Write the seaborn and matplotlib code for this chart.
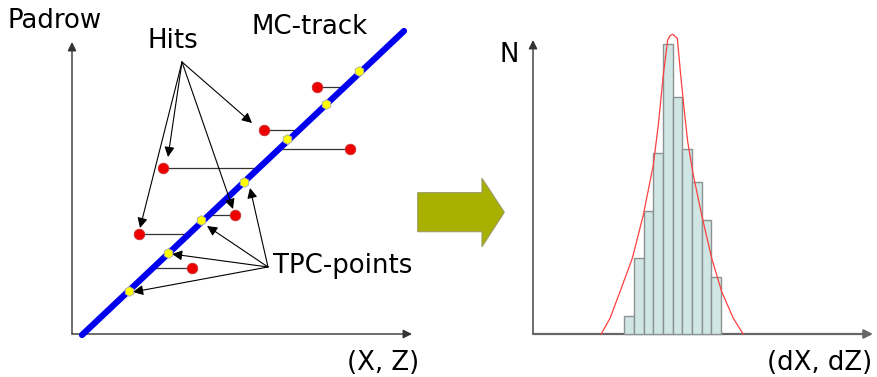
import numpy as np
import pandas as pd
import matplotlib
matplotlib.use("Agg")
import matplotlib.pyplot as plt
from matplotlib.patches import Polygon
import seaborn as sns

# positions, in pixels (y grows downward)
track_x = [82, 404]
track_y = [335, 31]

tpc_x = [359, 326, 287, 244, 201, 168, 129]
tpc_y = [71, 104, 139, 182, 220, 253, 291]

hit_x = [317, 264, 350, 163, 235, 139, 192]
hit_y = [87, 130, 149, 168, 215, 234, 268]

# arrows from "Hits" label to some hits
hits_src = (182, 62)
hits_tip_x = [252, 168, 233, 140]
hits_tip_y = [123, 157, 209, 228]

# arrows from "TPC-points" label to track points
tpc_src = (268, 267)
tpc_tip_x = [250, 207, 172, 133]
tpc_tip_y = [188, 226, 254, 292]

# histogram (right panel)
bin_edges = [624.3, 634, 643.7, 653.3, 663, 672.7, 682.3, 692, 701.7, 711.3, 721]
bin_tops = [315.7, 258.3, 210.7, 153.3, 44.3, 96.7, 149.3, 182, 220.3, 277.3]
base_y = 334

fit_x = [601, 610, 620, 632.3, 643.3, 653.3, 658.3, 663.3, 667.7, 670, 672.7,
         677.3, 680.7, 684, 687.7, 693.3, 701.7, 711.7, 721.7, 733.3, 743.3]
fit_y = [334.3, 318.3, 291.7, 258.3, 215, 165, 125, 75, 40, 35.7, 34.3,
         38.3, 75, 108, 141.7, 175, 215, 258.3, 291.7, 318.3, 334.3]

sns.set_theme(style="white")
plt.rcParams['font.family'] = ['DejaVu Sans']
plt.rcParams['text.color'] = 'black'

fig = plt.figure(figsize=(8.77, 3.77), dpi=100)
ax = fig.add_axes([0, 0, 1, 1])
ax.set_xlim(0, 877)
ax.set_ylim(377, 0)
ax.axis("off")

def arrow(x0, y0, x1, y1, color="black", lw=0.8, ms=15):
    ax.annotate("", xy=(x1, y1), xytext=(x0, y0),
                arrowprops=dict(arrowstyle="-|>", color=color, lw=lw,
                                mutation_scale=ms, shrinkA=0, shrinkB=0))

# left axes
arrow(72, 334, 72, 42, color="#333333", lw=1.0, ms=13)
arrow(72, 334, 412, 334, color="#333333", lw=1.0, ms=13)

# horizontal lines from hits to the track
slope = (track_y[1] - track_y[0]) / (track_x[1] - track_x[0])
for hx, hy in zip(hit_x, hit_y):
    tx = track_x[0] + (hy - track_y[0]) / slope
    ax.plot([hx, tx], [hy, hy], color="#333333", lw=0.9, zorder=2)

# MC track
sns.lineplot(x=track_x, y=track_y, color="#0000ee", lw=4.5, ax=ax, zorder=3)

# label arrows
for tx, ty in zip(hits_tip_x, hits_tip_y):
    arrow(hits_src[0], hits_src[1], tx, ty)
for tx, ty in zip(tpc_tip_x, tpc_tip_y):
    arrow(tpc_src[0], tpc_src[1], tx, ty)

# points
sns.scatterplot(x=hit_x, y=hit_y, color="#ee0000", s=58, edgecolor="#cc3333",
                linewidth=0.6, ax=ax, zorder=5)
sns.scatterplot(x=tpc_x, y=tpc_y, color="#ffff00", marker="h", s=50,
                edgecolor="#aaaaaa", linewidth=0.6, ax=ax, zorder=5)

# text
fs = 18.7
ax.text(8, 27.7, "Padrow", fontsize=fs, va="baseline", ha="left")
ax.text(251, 34.3, "MC-track", fontsize=fs, va="baseline", ha="left")
ax.text(148, 47.7, "Hits", fontsize=fs, va="baseline", ha="left")
ax.text(273, 273.3, "TPC-points", fontsize=fs, va="baseline", ha="left")
ax.text(347, 370, "(X, Z)", fontsize=fs, va="baseline", ha="left")
ax.text(500, 62.3, "N", fontsize=fs, va="baseline", ha="left")
ax.text(767, 370, "(dX, dZ)", fontsize=fs, va="baseline", ha="left")

# green arrow
ax.add_patch(Polygon([(417.7, 192.7), (482, 192.7), (482, 178.3), (504.3, 212.3),
                      (482, 246.7), (482, 231.7), (417.7, 231.7)],
                     closed=True, facecolor="#a8b000", edgecolor="#9a9a60", lw=0.8))

# right axes
arrow(533, 334, 533, 40, color="#333333", lw=1.0, ms=13)
arrow(533, 334, 873, 334, color="#666666", lw=1.6, ms=13)

# histogram
edges = np.array(bin_edges)
heights = base_y - np.array(bin_tops)
ax.bar(edges[:-1], -heights, width=np.diff(edges), bottom=base_y, align="edge",
       color="#d0e6e4", edgecolor="#8c9292", lw=1.0, zorder=3)

# fitted curve
fit = pd.DataFrame({"x": fit_x, "y": fit_y})
sns.lineplot(data=fit, x="x", y="y", sort=False, color="#ff4040", lw=0.9,
             ax=ax, zorder=4)

ax.set_xlim(0, 877)
ax.set_ylim(377, 0)
ax.axis("off")
fig.savefig("out.png", dpi=100)
